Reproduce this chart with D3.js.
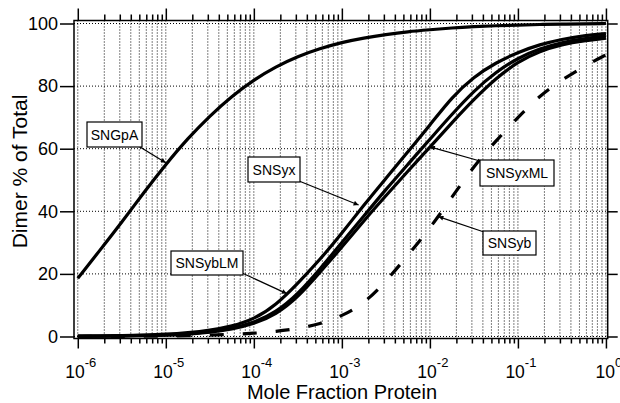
<!DOCTYPE html>
<html>
<head>
<meta charset="utf-8">
<script src="https://cdn.jsdelivr.net/npm/d3@7"></script>
<style>
  body { margin: 0; background: #fff; }
  svg { font-family: "Liberation Sans", Arial, Helvetica, sans-serif; }
  .grid line { stroke: #000; stroke-width: 1; stroke-dasharray: 1,2; }
  .axis path { display: none; }
  .axis line { stroke: #000; stroke-width: 1.5; }
  .curve { fill: none; stroke: #000; stroke-width: 3.2; }
  .note rect { fill: #fff; stroke: #000; stroke-width: 1.2; }
  .note line { stroke: #000; stroke-width: 1.2; }
</style>
</head>
<body>
<svg id="chart" width="620" height="403"></svg>
<script>
var moleFraction = [1e-6, 1.778e-6, 3.162e-6, 5.623e-6,
                    1e-5, 1.778e-5, 3.162e-5, 5.623e-5,
                    1e-4, 1.778e-4, 3.162e-4, 5.623e-4,
                    1e-3, 1.778e-3, 3.162e-3, 5.623e-3,
                    1e-2, 1.778e-2, 3.162e-2, 5.623e-2,
                    0.1, 0.1778, 0.3162, 0.5623, 1];

var snGpA   = [18.6, 27.5, 36.5, 46, 55, 63.3, 70.5, 76.8, 82, 86.2, 89.5, 92, 94,
               95.4, 96.5, 97.4, 98, 98.6, 99, 99.3, 99.5, 99.7, 99.8, 99.9, 100];
var snSyx   = [0.1, 0.15, 0.3, 0.45, 0.7, 1.2, 2.0, 3.3, 5.5, 10, 17, 24.5, 33,
               42, 50.5, 59, 67.5, 76.5, 83, 87.5, 90.8, 93.3, 95, 96.1, 96.8];
var snSybLM = [0.1, 0.15, 0.2, 0.35, 0.5, 0.9, 1.5, 2.6, 4.4, 7.7, 13.5, 21.5, 30,
               38.5, 47, 55, 63, 71, 78.5, 84.5, 89, 92, 94, 95.2, 96];
var snSyxML = [0.05, 0.1, 0.15, 0.3, 0.4, 0.75, 1.3, 2.3, 4.0, 7.0, 12.5, 20.5, 28.5,
               37, 45, 52.8, 60.5, 68.3, 75.8, 82.5, 87.8, 91.2, 93.3, 94.5, 95.3];
var snSyb   = [0, 0.03, 0.05, 0.1, 0.15, 0.25, 0.4, 0.7, 1.0, 1.6, 2.5, 4.0, 6.5,
               10.5, 17.5, 26, 34.5, 44.5, 54.5, 62.5, 70, 77, 82, 86.3, 90];

var xMajor = [1e-6, 1e-5, 1e-4, 1e-3, 1e-2, 1e-1, 1];
var xExponents = ["-6", "-5", "-4", "-3", "-2", "-1", "0"];
var yTicks = [0, 20, 40, 60, 80, 100];

// labels: box text and the point on the curve the arrow points at
var labelText = ["SNGpA", "SNSyx", "SNSybLM", "SNSyxML", "SNSyb"];
var labelTarget = [[1e-5, 55.5], [1.55e-3, 42], [2.37e-4, 13.7], [1.0e-2, 60.6], [1.25e-2, 38.3]];

(function() {
var svg = d3.select("#chart");
var frame = {left: 74, right: 607.7, top: 20.5, bottom: 338.5};

var x = d3.scaleLog()
    .domain([Math.pow(10, -6.043), Math.pow(10, 0.02)])
    .range([frame.left, frame.right]);
var y = d3.scaleLinear()
    .domain([-0.64, 100.96])
    .range([frame.bottom, frame.top]);

// grid
var grid = svg.append("g").attr("class", "grid");
grid.selectAll(".vx").data(x.ticks()).enter().append("line")
    .attr("x1", function(d) { return x(d); }).attr("x2", function(d) { return x(d); })
    .attr("y1", frame.top).attr("y2", frame.bottom);
grid.selectAll(".hy").data(yTicks).enter().append("line")
    .attr("x1", frame.left).attr("x2", frame.right)
    .attr("y1", function(d) { return y(d); }).attr("y2", function(d) { return y(d); });

// curves
var line = d3.line()
    .x(function(d) { return x(d[0]); })
    .y(function(d) { return y(d[1]); })
    .curve(d3.curveBasis);

function pairs(vals) { return moleFraction.map(function(m, i) { return [m, vals[i]]; }); }

[snGpA, snSyx, snSybLM, snSyxML].forEach(function(s) {
  svg.append("path").attr("class", "curve").attr("d", line(pairs(s)));
});
svg.append("path").attr("class", "curve")
    .attr("stroke-dasharray", "14,19")
    .attr("d", line(pairs(snSyb)));

// frame
svg.append("rect")
    .attr("x", frame.left).attr("y", frame.top)
    .attr("width", frame.right - frame.left).attr("height", frame.bottom - frame.top)
    .attr("fill", "none").attr("stroke", "#000").attr("stroke-width", 1.5);

// axes
var minor = x.ticks().filter(function(d) { return xMajor.indexOf(d) < 0; });

svg.append("g").attr("class", "axis")
    .attr("transform", "translate(0," + frame.bottom + ")")
    .call(d3.axisBottom(x).tickValues(xMajor).tickSize(10).tickSizeOuter(0).tickFormat(""));
svg.append("g").attr("class", "axis")
    .attr("transform", "translate(0," + frame.bottom + ")")
    .call(d3.axisBottom(x).tickValues(minor).tickSize(5).tickSizeOuter(0).tickFormat(""));
svg.append("g").attr("class", "axis")
    .attr("transform", "translate(0," + frame.top + ")")
    .call(d3.axisTop(x).tickValues(xMajor).tickSize(12).tickSizeOuter(0).tickFormat(""));
svg.append("g").attr("class", "axis")
    .attr("transform", "translate(0," + frame.top + ")")
    .call(d3.axisTop(x).tickValues(minor).tickSize(6).tickSizeOuter(0).tickFormat(""));
svg.append("g").attr("class", "axis")
    .attr("transform", "translate(" + frame.right + ",0)")
    .call(d3.axisRight(y).tickValues(yTicks).tickSize(10).tickSizeOuter(0).tickFormat(""));

var yAxis = svg.append("g").attr("class", "axis")
    .attr("transform", "translate(" + frame.left + ",0)")
    .call(d3.axisLeft(y).tickValues(yTicks).tickSize(14).tickSizeOuter(0).tickPadding(2));
yAxis.selectAll("text")
    .attr("font-size", 18).attr("fill", "#000");
yAxis.attr("font-family", null).attr("font-size", null);

// x tick labels 10^n
var xl = svg.selectAll(".xlab").data(xMajor).enter().append("text")
    .attr("x", function(d) { return x(d) + 3; })
    .attr("y", 378)
    .attr("text-anchor", "middle");
xl.append("tspan").attr("font-size", 17.5).text("10");
xl.append("tspan").attr("font-size", 13).attr("dy", -11)
    .text(function(d, i) { return xExponents[i]; });

// axis titles
svg.append("text")
    .attr("transform", "translate(26.5,171.5) rotate(-90)")
    .attr("text-anchor", "middle").attr("font-size", 21)
    .text("Dimer % of Total");
svg.append("text")
    .attr("x", 342).attr("y", 399)
    .attr("text-anchor", "middle").attr("font-size", 20)
    .text("Mole Fraction Protein");

// annotations
svg.append("defs").append("marker")
    .attr("id", "head").attr("viewBox", "0 0 10 10")
    .attr("refX", 10).attr("refY", 5)
    .attr("markerWidth", 7).attr("markerHeight", 5)
    .attr("markerUnits", "userSpaceOnUse")
    .attr("orient", "auto")
  .append("path").attr("d", "M0,0L10,5L0,10Z").attr("fill", "#000");

var boxes = [[87, 122, 55, 25], [248, 157, 52, 25], [171, 251, 72, 24], [480, 160, 74, 26], [483, 231, 53, 24]];
var starts = [[140, 147], [299, 181], [242, 273], [480, 161], [484, 232]];

labelText.forEach(function(t, i) {
  var g = svg.append("g").attr("class", "note");
  var b = boxes[i];
  g.append("line")
      .attr("x1", starts[i][0]).attr("y1", starts[i][1])
      .attr("x2", x(labelTarget[i][0])).attr("y2", y(labelTarget[i][1]))
      .attr("marker-end", "url(#head)");
  g.append("rect").attr("x", b[0]).attr("y", b[1]).attr("width", b[2]).attr("height", b[3]);
  g.append("text")
      .attr("x", b[0] + b[2] / 2).attr("y", b[1] + b[3] / 2 + 5)
      .attr("text-anchor", "middle").attr("font-size", 14)
      .text(t);
});
})();
</script>
</body>
</html>
